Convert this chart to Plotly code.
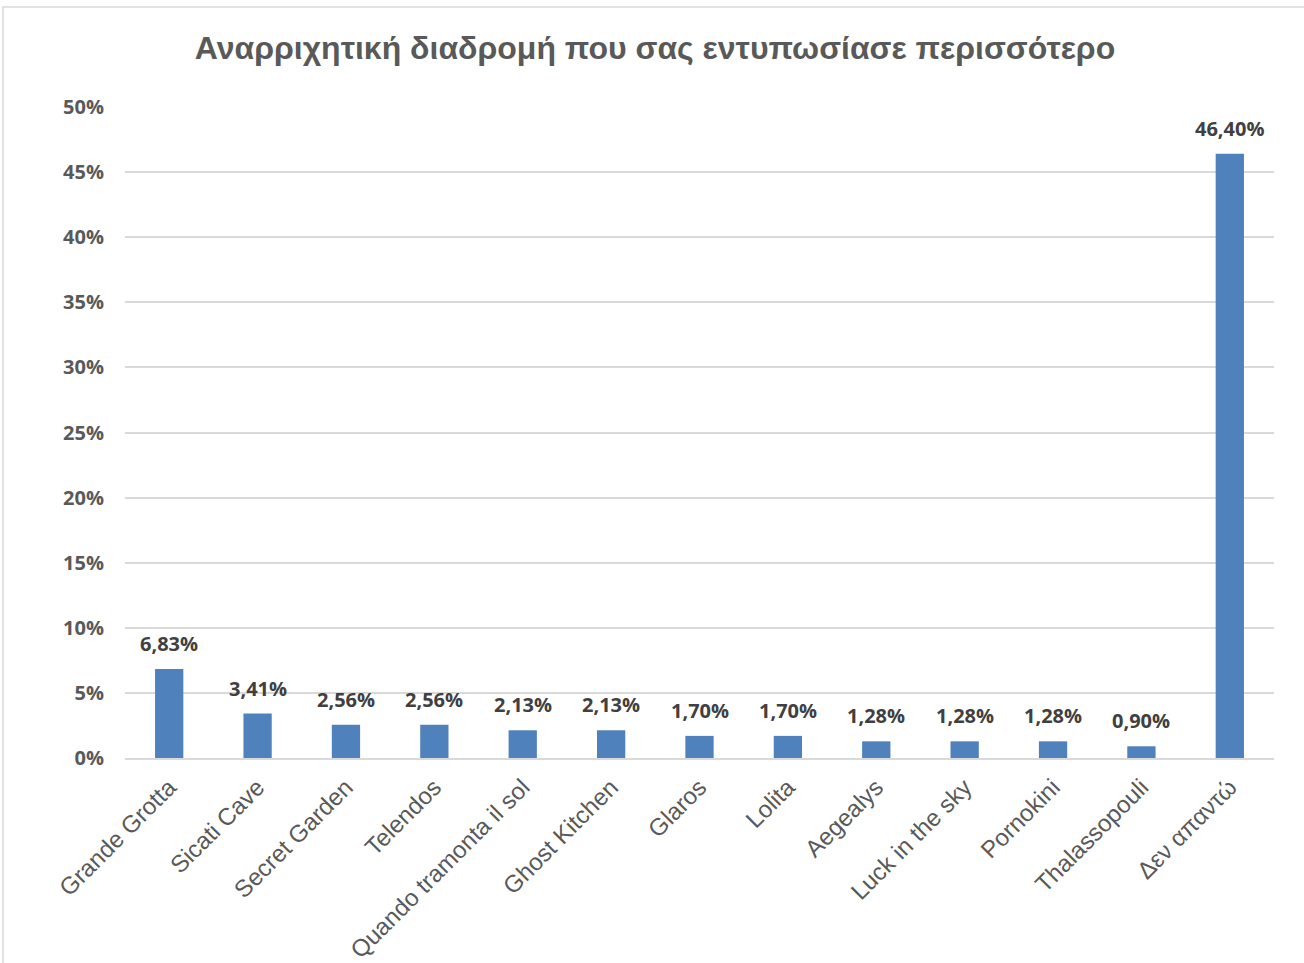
import plotly.graph_objects as go

categories = ["Grande Grotta", "Sicati Cave", "Secret Garden", "Telendos",
              "Quando tramonta il sol", "Ghost Kitchen", "Glaros", "Lolita",
              "Aegealys", "Luck in the sky", "Pornokini", "Thalassopouli", "Δεν απαντώ"]
values = [6.83, 3.41, 2.56, 2.56, 2.13, 2.13, 1.70, 1.70, 1.28, 1.28, 1.28, 0.90, 46.40]
tick_vals = [0, 5, 10, 15, 20, 25, 30, 35, 40, 45, 50]
tick_text = [f"{v}%" for v in tick_vals]
title = "Αναρριχητική διαδρομή που σας εντυπωσίασε περισσότερο"

labels = [f"{v:.2f}%".replace(".", ",") for v in values]

fig = go.Figure()
fig.add_trace(go.Bar(x=categories, y=values, marker=dict(color="#4f81bd", line=dict(width=0)),
                     width=0.32, hoverinfo="skip"))

for c, v, t in zip(categories, values, labels):
    fig.add_annotation(x=c, y=v, text=t, showarrow=False, yanchor="bottom", yshift=10,
                       font=dict(family="Open Sans", size=20, color="#404040", weight="bold"))

# chart-area frame (offset like the original)
fig.add_shape(type="rect", xref="paper", yref="paper", x0=-0.1062, x1=1.2, y0=-0.6, y1=1.1536,
              line=dict(color="#d9d9d9", width=1.5), fillcolor="rgba(0,0,0,0)", layer="below")

fig.update_layout(
    width=1304, height=963,
    margin=dict(l=125, r=30, t=107, b=205, autoexpand=False),
    paper_bgcolor="white", plot_bgcolor="white",
    showlegend=False,
    title=dict(text=title, x=655 / 1304, xanchor="center", xref="container", y=1 - 48 / 963,
               yanchor="middle",
               font=dict(family="Liberation Sans", size=32, color="#595959", weight="bold")),
    bargap=0.68,
    xaxis=dict(tickangle=-45, tickfont=dict(family="Liberation Sans", size=24, color="#595959"),
               showline=True, linecolor="#d9d9d9", linewidth=1.5, showgrid=False, ticks="",
               ticklabelstandoff=4, automargin=False),
    yaxis=dict(range=[0, 50], tickvals=tick_vals, ticktext=tick_text,
               tickfont=dict(family="Open Sans", size=20, color="#595959", weight="bold"),
               showgrid=True, gridcolor="#d9d9d9", gridwidth=1.5, zeroline=False, ticks="",
               ticklabelstandoff=20, automargin=False),
)

fig.write_html("out.html", config={"displayModeBar": False},
               post_script="document.body.style.margin='0';")
